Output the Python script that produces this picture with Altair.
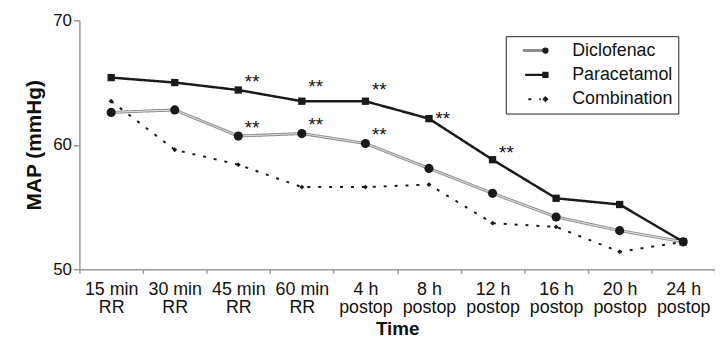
import altair as alt
import pandas as pd

categories = ["15 min|RR", "30 min|RR", "45 min|RR", "60 min|RR", "4 h|postop",
              "8 h|postop", "12 h|postop", "16 h|postop", "20 h|postop", "24 h|postop"]
series = ["Diclofenac", "Paracetamol", "Combination"]
markers = ["m-dicl", "m-para", "m-comb"]
diclofenac = [62.6, 62.8, 60.7, 60.9, 60.1, 58.1, 56.1, 54.2, 53.1, 52.2]
paracetamol = [65.4, 65.0, 64.4, 63.5, 63.5, 62.1, 58.8, 55.7, 55.2, 52.2]
combination = [63.5, 59.6, 58.4, 56.6, 56.6, 56.8, 53.7, 53.4, 51.4, 52.2]
sig_time = ["45 min|RR", "60 min|RR", "4 h|postop", "8 h|postop", "12 h|postop",
            "45 min|RR", "60 min|RR", "4 h|postop"]
sig_value = [65.3, 64.9, 64.65, 62.3, 59.55, 61.55, 61.8, 61.0]
sig_text = ["**"] * len(sig_time)

rows = []
for name, mk, vals in zip(series, markers, [diclofenac, paracetamol, combination]):
    for t, v in zip(categories, vals):
        rows.append({"time": t, "series": name, "marker": mk, "msize": name, "value": v})
df = pd.DataFrame(rows)
sig_df = pd.DataFrame({"time": sig_time, "value": sig_value, "txt": sig_text})

FONT = "Liberation Sans"

x_enc = alt.X(
    "time:N", sort=categories, bandPosition=0.5,
    scale=alt.Scale(type="band", paddingInner=0, paddingOuter=0),
    axis=alt.Axis(title="Time", labelExpr="split(datum.label, '|')", tickBand="extent",
                  labelAngle=0, labelFontSize=18, labelLineHeight=19, labelPadding=7,
                  tickSize=4, titleFontSize=19, titleFontWeight="bold", titlePadding=3,
                  labelColor="#111", titleColor="#111"),
)
y_enc = alt.Y(
    "value:Q", scale=alt.Scale(domain=[50, 70], nice=False, zero=False),
    axis=alt.Axis(title="MAP (mmHg)", values=[50, 60, 70], tickSize=6, labelPadding=2,
                  labelFontSize=17, titleFontSize=21, titleFontWeight="bold",
                  titlePadding=8, labelColor="#111", titleColor="#111"),
)

legend_lines = alt.Legend(
    title=None, orient="none", legendX=430, legendY=16, padding=5,
    strokeColor="#222", fillColor="white", symbolType="M-2.56,0H2.56", symbolSize=324,
    clipHeight=19, symbolOffset=15, labelOffset=29, labelFontSize=18, labelColor="#111",
    labelFont=FONT, rowPadding=5.5, zindex=1,
)
legend_marks = alt.Legend(
    title=None, orient="none", legendX=430, legendY=16, padding=5,
    symbolSize=40, clipHeight=19, symbolOffset=26, labelOffset=3, labelFontSize=18,
    labelExpr="''", labelFont=FONT, rowPadding=5.5, zindex=2,
    symbolFillColor="#1a1a1a", symbolStrokeColor="#1a1a1a",
)

base = alt.Chart(df)

lines = base.mark_line().encode(
    x=x_enc, y=y_enc,
    color=alt.Color("series:N", scale=alt.Scale(domain=series, range=["#8c8c8c", "#1a1a1a", "#1a1a1a"]),
                    legend=legend_lines),
    strokeDash=alt.StrokeDash("series:N", scale=alt.Scale(domain=series, range=[[1, 0], [1, 0], [3, 8]]),
                              legend=legend_lines),
    strokeWidth=alt.StrokeWidth("series:N", scale=alt.Scale(domain=series, range=[3, 2, 2.2]),
                                legend=legend_lines),
)
dicl_inner = base.transform_filter(alt.datum.series == "Diclofenac").mark_line(
    color="#dcdcdc", strokeWidth=1.1).encode(x=x_enc, y=y_enc)

points = base.mark_point(filled=True, opacity=1, color="#1a1a1a").encode(
    x=x_enc, y=y_enc,
    shape=alt.Shape("marker:N", scale=alt.Scale(domain=markers, range=["circle", "square", "diamond"]),
                    legend=legend_marks),
    size=alt.Size("msize:N", scale=alt.Scale(domain=series, range=[85, 24, 130]), legend=None),
)

stars = alt.Chart(sig_df).mark_text(fontSize=19, font=FONT, color="#111", dx=14, dy=3).encode(
    x=x_enc, y=y_enc, text="txt:N")

chart = alt.layer(lines, dicl_inner, points, stars).properties(
    width=641, height=251,
    autosize=alt.AutoSizeParams(type="none"),
    padding={"left": 72, "top": 11, "right": 0, "bottom": 76},
).configure(font=FONT).configure_view(stroke=None).configure_axis(
    grid=False, domainColor="#9a9a9a", tickColor="#9a9a9a", domainWidth=1.5, tickWidth=1.5,
    labelFont=FONT, titleFont=FONT,
)

chart.save("out.html", embed_options={"renderer": "svg", "actions": False})
